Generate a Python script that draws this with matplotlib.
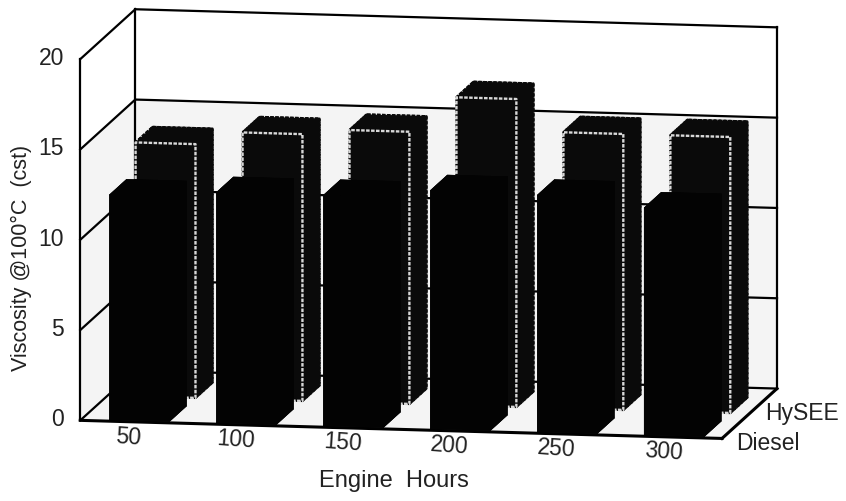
import numpy as np
import matplotlib
matplotlib.use('Agg')
import matplotlib.pyplot as plt
from mpl_toolkits.mplot3d import proj3d
from mpl_toolkits.mplot3d.art3d import Poly3DCollection

# Values
hours = ['50', '100', '150', '200', '250', '300']
fuels = ['Diesel', 'HySEE']
diesel = [12.46, 12.76, 12.77, 13.2, 13.11, 12.58]
hysee = [14.05, 14.77, 15.07, 17.05, 15.28, 15.28]
z_ticks = [0, 5, 10, 15, 20]

plt.rcParams['font.family'] = ['Liberation Sans', 'DejaVu Sans']

# Square axes, larger than the figure, so nothing gets clipped
W = 788.0
cx, cy = 418.0, 266.5
fig = plt.figure(figsize=(8.46, 5.01), dpi=100)
ax = fig.add_axes([(cx - W / 2) / 846, (cy - W / 2) / 501, W / 846, W / 501],
                  projection='3d', computed_zorder=False)
ax.set_proj_type('ortho')
ax.view_init(elev=9.2, azim=-80)
ax.set_box_aspect((650, 316, 365), zoom=1.0)

ax.set_xlim(0, 6)
ax.set_ylim(0, 2)
ax.set_zlim(0, 20)
ax.set_axis_off()

# Light tint of the scan on floor and lower walls
tint = [[(0, 0, 0), (6, 0, 0), (6, 2, 0), (0, 2, 0)],
        [(0, 2, 0), (6, 2, 0), (6, 2, 15), (0, 2, 15)],
        [(0, 0, 0), (0, 2, 0), (0, 2, 15), (0, 0, 15)]]
ax.add_collection3d(Poly3DCollection(tint, facecolor='#f4f4f4', edgecolor='none', zorder=0))

# Walls and floor
def line3(xs, ys, zs, lw=1.6):
    ax.plot(xs, ys, zs, color='black', lw=lw, zorder=1)

for z in z_ticks:
    line3([0, 0], [0, 2], [z, z])
    line3([0, 6], [2, 2], [z, z])
line3([0, 0], [0, 0], [0, 20])
line3([0, 0], [2, 2], [0, 20])
line3([6, 6], [2, 2], [0, 20])
line3([0, 6], [0, 0], [0, 0], lw=2.2)
line3([6, 6], [0, 2], [0, 0], lw=2.2)

# Bars, back row first. Faces run -z, +z, -y, +y, -x, +x
bar_w = 0.56
bar_d = 0.62
xs = np.arange(6) + 0.26
ax.bar3d(xs, np.full(6, 1.0), np.zeros(6), bar_w, bar_d, hysee,
         color='#0a0a0a',
         edgecolor=['#0a0a0a', '#0a0a0a', '#d8d8d8', '#0a0a0a', '#0a0a0a', '#0a0a0a'] * 6,
         linewidth=1.7, linestyle=(0, (1.5, 0.6)), shade=False, zorder=2)
ax.bar3d(xs, np.full(6, 0.05), np.zeros(6), bar_w, bar_d, diesel,
         color='#030303', edgecolor='#030303', linewidth=0.4, shade=False, zorder=3)

# Labels placed from 3D positions, as plain 2D text
M = ax.get_proj()
def label3(x, y, z, s, **kw):
    px, py, _ = proj3d.proj_transform(x, y, z, M)
    ax.text2D(px, py, s, transform=ax.transData, fontsize=16.5, color='#222222', va='center', **kw)

for z in z_ticks:
    label3(-0.15, 0, z, str(z), ha='right')
for i, h in enumerate(hours):
    label3(i + 0.45, 0, -0.85, h, ha='center', rotation=-4)
label3(6.07, 0.25, -0.6, fuels[0], ha='left')
label3(6.12, 1.1, -0.1, fuels[1], ha='left')

fig.text(21 / 846, 1 - 258 / 501, 'Viscosity @100°C  (cst)', rotation=90, fontsize=15.5,
         color='#222222', ha='center', va='center')
fig.text(394 / 846, 1 - 481 / 501, 'Engine  Hours', fontsize=17, color='#222222', ha='center', va='center')

fig.savefig('out.png', dpi=100)
